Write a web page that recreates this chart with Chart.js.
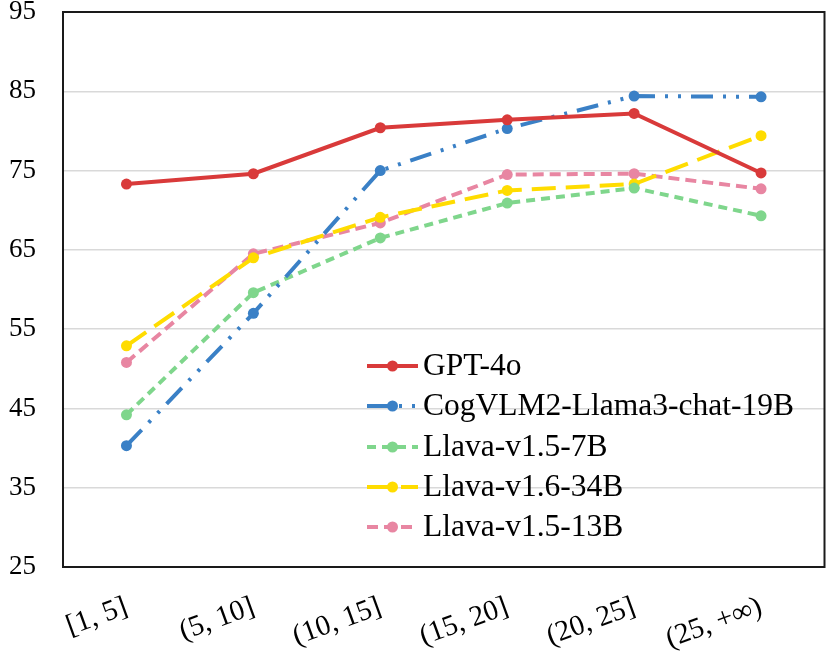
<!DOCTYPE html>
<html>
<head>
<meta charset="utf-8">
<script src="https://cdn.jsdelivr.net/npm/chart.js@4.4.1/dist/chart.umd.min.js"></script>
<style>
  html, body { margin: 0; padding: 0; background: #fff; }
  #wrap { width: 830px; height: 662px; }
</style>
</head>
<body>
<div id="wrap"><canvas id="chart"></canvas></div>
<script>
// chart data
const categories = ['[1, 5]', '(5, 10]', '(10, 15]', '(15, 20]', '(20, 25]', '(25, +∞)'];
const gpt4o = [73.3, 74.6, 80.4, 81.4, 82.2, 74.7];
const cogvlm2 = [40.3, 57.0, 75.0, 80.3, 84.4, 84.3];
const llava157b = [44.2, 59.6, 66.5, 70.9, 72.8, 69.3];
const llava1634b = [52.9, 64.0, 69.1, 72.5, 73.3, 79.4];
const llava1513b = [50.8, 64.5, 68.4, 74.5, 74.6, 72.7];
const yTicks = [25, 35, 45, 55, 65, 75, 85, 95];

const FONT = '"Liberation Serif", "Times New Roman", serif';

function series(label, data, color, dash) {
    return {
        label: label,
        data: data,
        borderColor: color,
        backgroundColor: color,
        borderWidth: 4,
        borderDash: dash,
        pointRadius: 5.5,
        pointBorderWidth: 0,
        pointBackgroundColor: color,
        fill: false,
        tension: 0
    };
}

// frame round the plot area
const framePlugin = {
    id: 'frame',
    afterDraw(chart) {
        const a = chart.chartArea;
        const ctx = chart.ctx;
        ctx.save();
        ctx.strokeStyle = '#1a1a1a';
        ctx.lineWidth = 2;
        ctx.strokeRect(a.left, a.top, a.right - a.left, a.bottom - a.top);
        ctx.restore();
    }
};

// legend drawn inside the plot
const insideLegend = {
    id: 'insideLegend',
    afterDraw(chart) {
        const ctx = chart.ctx;
        const x0 = 367, x1 = 418, tx = 423;
        const rows = [366, 406, 447, 487, 527];
        ctx.save();
        chart.data.datasets.forEach(function (ds, i) {
            const y = rows[i];
            ctx.strokeStyle = ds.borderColor;
            ctx.lineWidth = 4;
            ctx.setLineDash(ds.borderDash || []);
            ctx.beginPath();
            ctx.moveTo(x0, y);
            ctx.lineTo(x1, y);
            ctx.stroke();
            ctx.setLineDash([]);
            ctx.fillStyle = ds.borderColor;
            ctx.beginPath();
            ctx.arc((x0 + x1) / 2, y, 5.5, 0, Math.PI * 2);
            ctx.fill();
            ctx.fillStyle = '#000';
            ctx.font = '31.5px ' + FONT;
            ctx.textBaseline = 'middle';
            ctx.textAlign = 'left';
            ctx.fillText(ds.label, tx, y + 1);
        });
        ctx.restore();
    }
};

document.addEventListener('DOMContentLoaded', function () {
    const ctx = document.getElementById('chart').getContext('2d');

    new Chart(ctx, {
        type: 'line',
        data: {
            labels: categories,
            datasets: [
                series('GPT-4o', gpt4o, '#d93a3a', []),
                series('CogVLM2-Llama3-chat-19B', cogvlm2, '#3a80c6', [22, 10, 3, 10, 3, 10]),
                series('Llava-v1.5-7B', llava157b, '#7fd68c', [9, 6]),
                series('Llava-v1.6-34B', llava1634b, '#ffdc00', [24, 10]),
                series('Llava-v1.5-13B', llava1513b, '#e886a2', [11, 6])
            ]
        },
        options: {
            responsive: true,
            maintainAspectRatio: false,
            animation: false,
            layout: { padding: { top: 12, right: 5, left: 0, bottom: 0 } },
            plugins: {
                legend: { display: false },
                tooltip: { enabled: false }
            },
            scales: {
                x: {
                    offset: true,
                    grid: { display: false, drawTicks: false },
                    border: { display: false },
                    ticks: {
                        color: '#000',
                        font: { family: FONT, size: 29 },
                        minRotation: 20,
                        maxRotation: 20,
                        padding: 23
                    },
                    afterFit(scale) {
                        scale.height = 95;
                        scale.paddingLeft = 0;
                        scale.paddingRight = 0;
                    }
                },
                y: {
                    min: 25,
                    max: 95,
                    afterBuildTicks(scale) {
                        scale.ticks = yTicks.map(function (v) { return { value: v }; });
                    },
                    grid: { color: '#d9d9d9', lineWidth: 1.5, drawTicks: false },
                    border: { display: false },
                    ticks: {
                        color: '#000',
                        font: { family: FONT, size: 27 },
                        padding: 27
                    },
                    afterFit(scale) {
                        scale.width = 63;
                        scale.paddingTop = 0;
                        scale.paddingBottom = 0;
                    }
                }
            }
        },
        plugins: [framePlugin, insideLegend]
    });
});
</script>
</body>
</html>
